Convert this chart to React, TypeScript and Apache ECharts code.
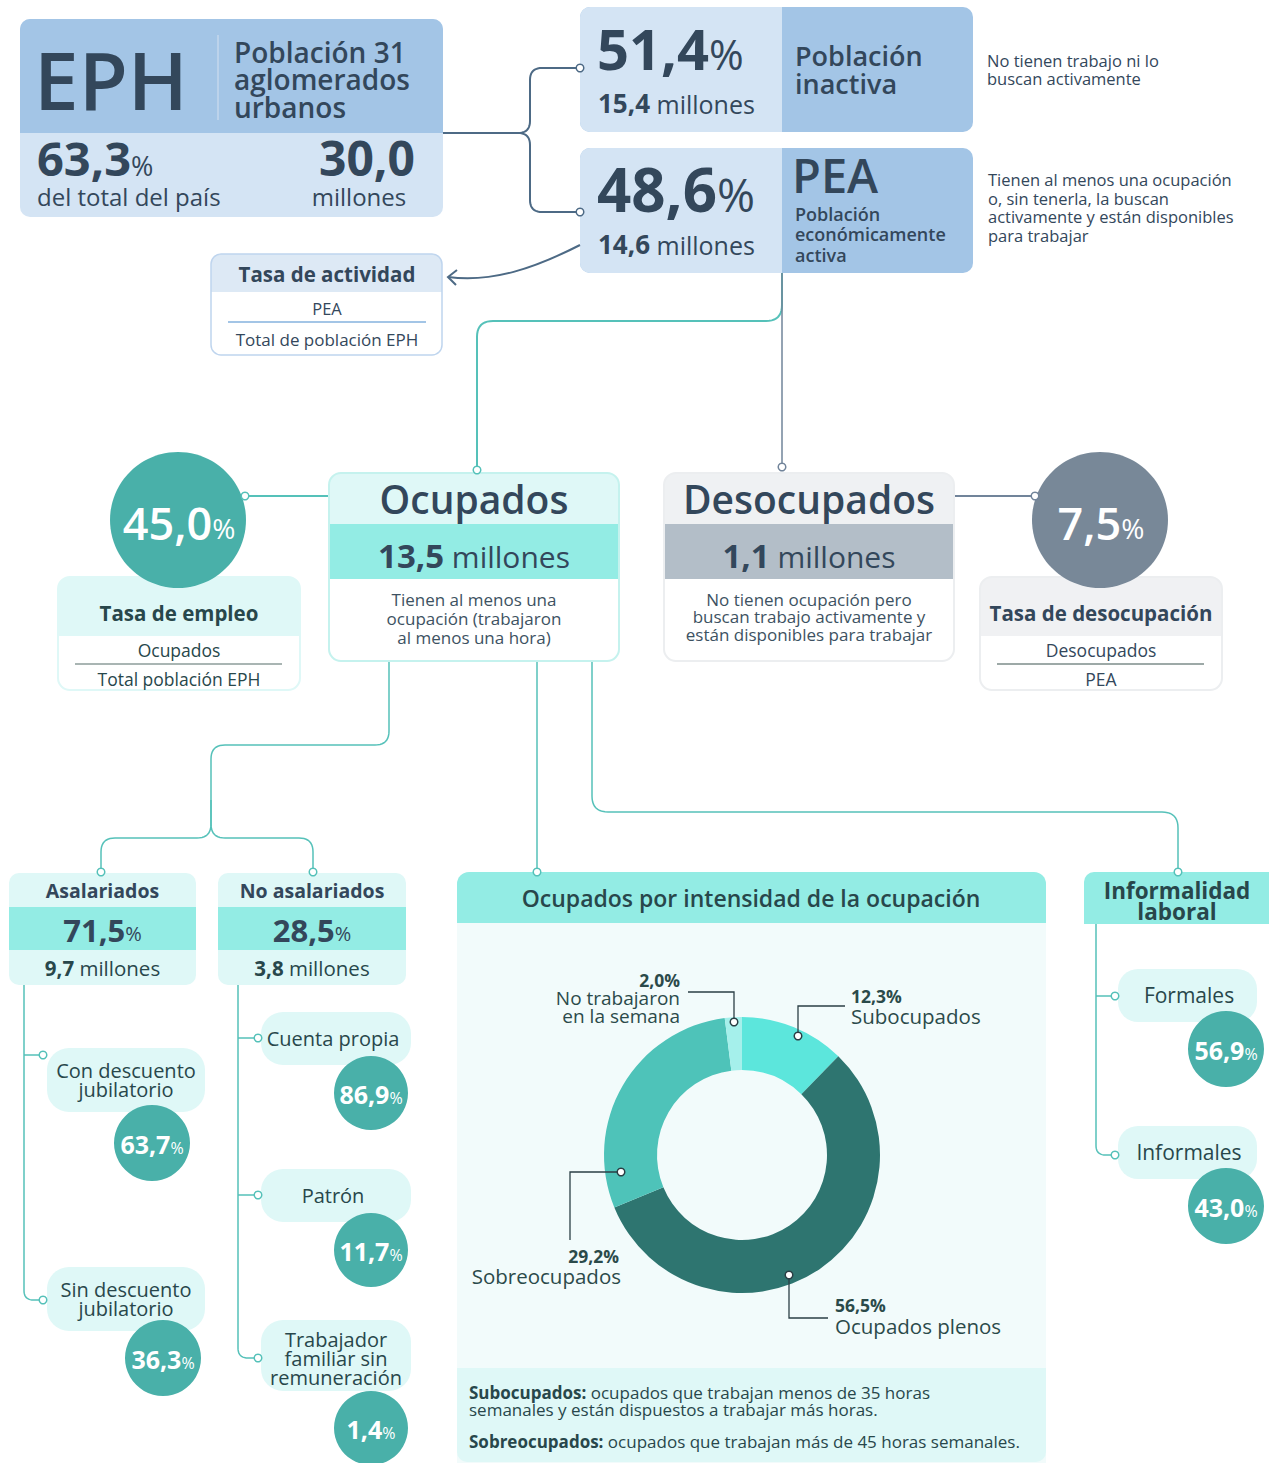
import React, { useEffect, useRef } from "react";
import * as echarts from "echarts";

// ---------------- data ----------------
const ephShareOfCountry = 63.3;
const ephMillions = 30.0;
const topGroupNames = ["Población\ninactiva", "PEA"];
const topGroupPct = [51.4, 48.6];
const topGroupMillions = [15.4, 14.6];
const topGroupDesc = [
  "No tienen trabajo ni lo\nbuscan activamente",
  "Tienen al menos una ocupación\no, sin tenerla, la buscan\nactivamente y están disponibles\npara trabajar",
];
const statusNames = ["Ocupados", "Desocupados"];
const statusMillions = [13.5, 1.1];
const statusDesc = [
  "Tienen al menos una\nocupación (trabajaron\nal menos una hora)",
  "No tienen ocupación pero\nbuscan trabajo activamente y\nestán disponibles para trabajar",
];
const rateNames = ["Tasa de empleo", "Tasa de desocupación"];
const rateValues = [45.0, 7.5];
const rateNumerators = ["Ocupados", "Desocupados"];
const rateDenominators = ["Total población EPH", "PEA"];
const workerTypes = ["Asalariados", "No asalariados"];
const workerPct = [71.5, 28.5];
const workerMillions = [9.7, 3.8];
const asalariadosSub = ["Con descuento\njubilatorio", "Sin descuento\njubilatorio"];
const asalariadosSubPct = [63.7, 36.3];
const noAsalariadosSub = ["Cuenta propia", "Patrón", "Trabajador\nfamiliar sin\nremuneración"];
const noAsalariadosSubPct = [86.9, 11.7, 1.4];
const informalityNames = ["Formales", "Informales"];
const informalityPct = [56.9, 43.0];
const intensityNames = ["Subocupados", "Ocupados plenos", "Sobreocupados", "No trabajaron\nen la semana"];
const intensityPct = [12.3, 56.5, 29.2, 2.0];

// ---------------- styles ----------------
const FONT = "'Open Sans', 'Noto Sans', sans-serif";
const NAVY = "#33475b";
const TTXT = "#28474b";
const DESC = "#3d5262";
const BLUE_LINE = "#4d6a85";
const TEAL_LINE = "#55c1b9";
const GRAY_LINE = "#71849a";
const CIRCLE = "#49b0a9";
const PILL = "#dff8f7";
const BAND = "#93ece4";
const LIGHT_BLUE = "#d4e4f4";
const MID_BLUE = "#a3c5e6";
const SLICE_COLORS = ["#5ce6dc", "#2e7570", "#4ec3b9", "#a5f0eb"];

const fmt = (v: number) => v.toFixed(1).replace(".", ",");

function roundPts(pts: number[][], r: number): number[][] {
  const out: number[][] = [pts[0]];
  for (let i = 1; i < pts.length - 1; i++) {
    const [x0, y0] = pts[i - 1];
    const [x1, y1] = pts[i];
    const [x2, y2] = pts[i + 1];
    const l0 = Math.hypot(x1 - x0, y1 - y0);
    const l1 = Math.hypot(x2 - x1, y2 - y1);
    const rr = Math.min(r, l0 / 2, l1 / 2);
    const ax = x1 - ((x1 - x0) / l0) * rr;
    const ay = y1 - ((y1 - y0) / l0) * rr;
    const bx = x1 + ((x2 - x1) / l1) * rr;
    const by = y1 + ((y2 - y1) / l1) * rr;
    for (let k = 0; k <= 10; k++) {
      const t = k / 10;
      out.push([
        (1 - t) * (1 - t) * ax + 2 * (1 - t) * t * x1 + t * t * bx,
        (1 - t) * (1 - t) * ay + 2 * (1 - t) * t * y1 + t * t * by,
      ]);
    }
  }
  out.push(pts[pts.length - 1]);
  return out;
}

const rect = (x: number, y: number, w: number, h: number, fill: string, r: any = 0, extra: any = {}) => ({
  type: "rect",
  shape: { x, y, width: w, height: h, r },
  style: { fill, ...extra },
});
const frame = (x: number, y: number, w: number, h: number, stroke: string, r: any, lw = 1.5) => ({
  type: "rect",
  shape: { x, y, width: w, height: h, r },
  style: { fill: "none", stroke, lineWidth: lw },
});
const line = (x1: number, y1: number, x2: number, y2: number, stroke: string, lw = 2) => ({
  type: "line",
  shape: { x1, y1, x2, y2 },
  style: { stroke, lineWidth: lw },
});
const conn = (pts: number[][], stroke: string, r = 14, lw = 2) => ({
  type: "polyline",
  shape: { points: roundPts(pts, r) },
  style: { stroke, lineWidth: lw, fill: "none" },
});
const dot = (x: number, y: number, stroke: string, z = 20) => ({
  type: "circle",
  z,
  shape: { cx: x, cy: y, r: 3.8 },
  style: { fill: "#ffffff", stroke, lineWidth: 1.5 },
});
const circ = (cx: number, cy: number, r: number, fill: string) => ({
  type: "circle",
  shape: { cx, cy, r },
  style: { fill },
});
type TOpt = { s?: number; w?: any; c?: string; a?: string; v?: string; lh?: number; rich?: any; z?: number };
const T = (x: number, y: number, text: string, o: TOpt = {}) => ({
  type: "text",
  x,
  y,
  z: o.z ?? 5,
  style: {
    text,
    fontSize: o.s ?? 16,
    fontWeight: o.w ?? 400,
    fontFamily: FONT,
    fill: o.c ?? NAVY,
    align: o.a ?? "left",
    verticalAlign: o.v ?? "middle",
    lineHeight: o.lh,
    rich: o.rich,
  },
});
const R = (a: number, b: number, color: string, aW: any = 700, bW: any = 500, bPad?: number) => ({
  a: { fontSize: a, fontWeight: aW, fontFamily: FONT, fill: color, verticalAlign: "bottom" },
  b: {
    fontSize: b,
    fontWeight: bW,
    fontFamily: FONT,
    fill: color,
    verticalAlign: "bottom",
    padding: [0, 0, bPad ?? Math.round(0.15 * (a - b)), 0],
  },
});
const pctText = (v: number) => `{a|${fmt(v)}}{b|%}`;
const millText = (v: number) => `{a|${fmt(v)}}{b| millones}`;

function buildGraphics() {
  const E: any[] = [];

  // ---- EPH box ----
  E.push(rect(20, 19, 423, 198, LIGHT_BLUE, 10));
  E.push(rect(20, 19, 423, 114, MID_BLUE, [10, 10, 0, 0]));
  E.push(line(218, 35, 218, 120, "#bcd3eb", 2));
  E.push(T(34, 78, "EPH", { s: 80, w: 600 }));
  E.push(T(234, 79, "Población 31\naglomerados\nurbanos", { s: 28, w: 600, lh: 27.5 }));
  E.push(T(37, 158, pctText(ephShareOfCountry), { rich: R(47, 27, NAVY) }));
  E.push(T(37, 196, "del total del país", { s: 24, w: 500 }));
  E.push(T(415, 157, fmt(ephMillions), { s: 48, w: 700, a: "right" }));
  E.push(T(359, 196, "millones", { s: 24, w: 500, a: "center" }));

  // ---- connectors to top groups ----
  E.push(conn([[443, 133], [530, 133], [530, 68], [580, 68]], BLUE_LINE, 12));
  E.push(conn([[443, 133], [530, 133], [530, 212], [580, 212]], BLUE_LINE, 12));

  // ---- teal / gray connectors from PEA ----
  E.push(conn([[782, 273], [782, 321], [477, 321], [477, 470]], TEAL_LINE, 16));
  E.push(line(782, 273, 782, 467, GRAY_LINE, 1.5));

  // ---- top groups ----
  const topY = [7, 148];
  const topPctSize = [[56, 42], [60, 46]];
  topGroupNames.forEach((name, i) => {
    const y = topY[i];
    E.push(rect(580, y, 393, 125, MID_BLUE, 10));
    E.push(rect(580, y, 202, 125, LIGHT_BLUE, [10, 0, 0, 10]));
    E.push(T(597, y + 41, pctText(topGroupPct[i]), { rich: R(topPctSize[i][0], topPctSize[i][1], NAVY, 700, 500) }));
    E.push(T(598, y + 96, millText(topGroupMillions[i]), { rich: R(26, 25, NAVY, 700, 400, 0) }));
    if (i === 0) {
      E.push(T(795, y + 62, name, { s: 27, w: 600, lh: 28 }));
    } else {
      E.push(T(792, y + 27, name, { s: 47, w: 600 }));
      E.push(T(795, y + 86, "Población\neconómicamente\nactiva", { s: 18, w: 600, lh: 20.5 }));
    }
  });
  E.push(T(987, 69, topGroupDesc[0], { s: 16.5, w: 500, lh: 18, c: NAVY }));
  E.push(T(988, 207.5, topGroupDesc[1], { s: 16.5, w: 500, lh: 18.5, c: NAVY }));
  E.push(dot(580, 68, BLUE_LINE));
  E.push(dot(580, 212, BLUE_LINE));

  // ---- Tasa de actividad ----
  E.push({
    type: "bezierCurve",
    shape: { x1: 580, y1: 245, cpx1: 535, cpy1: 268, cpx2: 492, cpy2: 283, x2: 448, y2: 277 },
    style: { stroke: BLUE_LINE, lineWidth: 2, fill: "none" },
  });
  E.push({
    type: "polyline",
    shape: { points: [[457, 270], [448, 277], [456, 285]] },
    style: { stroke: BLUE_LINE, lineWidth: 2, fill: "none" },
  });
  E.push(rect(211, 254, 231, 101, "#ffffff", 10));
  E.push(rect(211, 254, 231, 38, "#dde9f5", [10, 10, 0, 0]));
  E.push(frame(211, 254, 231, 101, "#bfd5ee", 10, 1.5));
  E.push(T(327, 274, "Tasa de actividad", { s: 20.5, w: 700, a: "center" }));
  E.push(T(327, 308, "PEA", { s: 16.5, a: "center" }));
  E.push(line(228, 322, 426, 322, MID_BLUE, 2));
  E.push(T(327, 339, "Total de población EPH", { s: 17, a: "center" }));

  // ---- connectors from Ocupados ----
  E.push(conn([[389, 661], [389, 745], [211, 745], [211, 838], [101, 838], [101, 872]], TEAL_LINE, 14, 1.5));
  E.push(conn([[211, 800], [211, 838], [313, 838], [313, 872]], TEAL_LINE, 14, 1.5));
  E.push(line(537, 661, 537, 872, TEAL_LINE, 1.5));
  E.push(conn([[592, 661], [592, 812], [1178, 812], [1178, 872]], TEAL_LINE, 16, 1.5));

  // ---- rate boxes & circles ----
  const rateBoxX = [58, 980];
  const rateCircle = [[178, 520], [1100, 520]];
  const rateHead = [PILL, "#f0f1f3"];
  const rateBorder = [PILL, "#eceef0"];
  const rateCircleCol = [CIRCLE, "#788898"];
  const rateRule = ["#8c9c9a", "#7d8c8a"];
  const rateTxt = [TTXT, NAVY];
  rateNames.forEach((name, i) => {
    const x = rateBoxX[i];
    E.push(rect(x, 577, 242, 113, "#ffffff", 12));
    E.push(rect(x, 577, 242, 59, rateHead[i], [12, 12, 0, 0]));
    E.push(frame(x, 577, 242, 113, rateBorder[i], 12, 2));
    E.push(T(x + 121, 613, name, { s: 20.5, w: 700, a: "center", c: rateTxt[i] }));
    E.push(T(x + 121, 650, rateNumerators[i], { s: 17.5, a: "center", c: rateTxt[i] }));
    E.push(line(x + 17, 664, x + 224, 664, rateRule[i], 1.5));
    E.push(T(x + 121, 679, rateDenominators[i], { s: 17.5, a: "center", c: rateTxt[i] }));
    const [cx, cy] = rateCircle[i];
    E.push(circ(cx, cy, 68, rateCircleCol[i]));
    E.push(T(cx + 1, cy + 2, pctText(rateValues[i]), { a: "center", rich: R(45, 28, "#ffffff", 600, 500) }));
  });
  E.push(line(245, 496, 329, 496, TEAL_LINE, 2));
  E.push(line(954, 496, 1035, 496, GRAY_LINE, 2));

  // ---- status boxes ----
  const statusX = [329, 664];
  const statusHead = [PILL, "#eff1f3"];
  const statusBand = [BAND, "#b3bec8"];
  const statusBorder = ["#c5f2ee", "#eceef0"];
  statusNames.forEach((name, i) => {
    const x = statusX[i];
    E.push(rect(x, 473, 290, 188, "#ffffff", 12));
    E.push(rect(x, 473, 290, 51, statusHead[i], [12, 12, 0, 0]));
    E.push(rect(x, 524, 290, 55, statusBand[i]));
    E.push(frame(x, 473, 290, 188, statusBorder[i], 12, 2));
    E.push(T(x + 145, 498, name, { s: 39, w: 600, a: "center" }));
    E.push(T(x + 145, 555, millText(statusMillions[i]), { a: "center", rich: R(33, 30, NAVY, 700, 400, 0) }));
    E.push(T(x + 145, i === 0 ? 618 : 616.5, statusDesc[i], { s: 17, lh: i === 0 ? 19 : 17.5, a: "center", c: DESC }));
  });
  E.push(dot(245, 496, TEAL_LINE));
  E.push(dot(1035, 496, GRAY_LINE));
  E.push(dot(477, 470, TEAL_LINE));
  E.push(dot(782, 467, GRAY_LINE));

  // ---- worker type boxes ----
  const workerX = [9, 218];
  const workerW = [187, 188];
  workerTypes.forEach((name, i) => {
    const x = workerX[i];
    const w = workerW[i];
    E.push(rect(x, 873, w, 112, PILL, 10));
    E.push(rect(x, 907, w, 43, BAND));
    E.push(T(x + w / 2, 890, name, { s: 19.5, w: 700, a: "center", c: NAVY }));
    E.push(T(x + w / 2, 930, pctText(workerPct[i]), { a: "center", rich: R(31, 20, NAVY, 700, 500) }));
    E.push(T(x + w / 2, 968, millText(workerMillions[i]), { a: "center", rich: R(20.5, 20.5, TTXT, 700, 500, 0) }));
  });
  E.push(dot(101, 872, TEAL_LINE));
  E.push(dot(313, 872, TEAL_LINE));

  // ---- asalariados sub items ----
  E.push(conn([[24, 985], [24, 1300], [43, 1300]], TEAL_LINE, 14, 1.5));
  E.push(line(24, 1055, 43, 1055, TEAL_LINE, 1.5));
  const asalPillY = [1048, 1267];
  const asalCircle = [[152, 1143], [163, 1358]];
  asalariadosSub.forEach((name, i) => {
    const y = asalPillY[i];
    E.push(rect(47, y, 158, 64, PILL, 22));
    E.push(T(126, y + 32, name, { s: 20, w: 500, lh: 19, a: "center", c: TTXT }));
    const [cx, cy] = asalCircle[i];
    E.push(circ(cx, cy, 38, CIRCLE));
    E.push(T(cx, cy + 1, pctText(asalariadosSubPct[i]), { a: "center", rich: R(25, 16, "#ffffff", 700, 500) }));
    E.push(dot(43, y + 7 + (i === 0 ? 0 : 26), TEAL_LINE));
  });

  // ---- no asalariados sub items ----
  E.push(conn([[238, 985], [238, 1358], [258, 1358]], TEAL_LINE, 14, 1.5));
  E.push(line(238, 1038, 258, 1038, TEAL_LINE, 1.5));
  E.push(line(238, 1195, 258, 1195, TEAL_LINE, 1.5));
  const noPill = [[1012, 53], [1169, 53], [1320, 71]];
  const noCircleY = [1093, 1250, 1428];
  const noDotY = [1038, 1195, 1358];
  noAsalariadosSub.forEach((name, i) => {
    const [y, h] = noPill[i];
    E.push(rect(261, y, 150, h, PILL, 22));
    E.push(T(i === 2 ? 336 : 333, y + h / 2 + (i === 2 ? 3 : 0), name, { s: 20, w: 500, lh: 19, a: "center", c: TTXT }));
    E.push(circ(371, noCircleY[i], 37, CIRCLE));
    E.push(T(371, noCircleY[i] + 1, pctText(noAsalariadosSubPct[i]), { a: "center", rich: R(25, 16, "#ffffff", 700, 500) }));
    E.push(dot(258, noDotY[i], TEAL_LINE));
  });

  // ---- donut panel ----
  E.push(rect(457, 872, 589, 591, "#f2fbfb", [12, 12, 0, 0]));
  E.push(rect(457, 872, 589, 51, BAND, [12, 12, 0, 0]));
  E.push(rect(457, 1368, 589, 94, PILL, [0, 0, 10, 10]));
  E.push(T(751, 898, "Ocupados por intensidad de la ocupación", { s: 23, w: 600, a: "center", c: TTXT }));
  const footRich = {
    b: { fontSize: 17, fontWeight: 700, fontFamily: FONT, fill: TTXT },
    n: { fontSize: 17, fontWeight: 400, fontFamily: FONT, fill: TTXT },
  };
  E.push(T(469, 1392, "{b|Subocupados:}{n| ocupados que trabajan menos de 35 horas}", { rich: footRich }));
  E.push(T(469, 1409, "{n|semanales y están dispuestos a trabajar más horas.}", { rich: footRich }));
  E.push(T(469, 1441, "{b|Sobreocupados:}{n| ocupados que trabajan más de 45 horas semanales.}", { rich: footRich }));
  E.push(dot(537, 872, TEAL_LINE));

  // ---- donut labels ----
  const LBL = "#2b4a4a";
  const pieLabelLayout = [
    { dot: [798, 1036], pts: [[845, 1006], [798, 1006], [798, 1036]], tx: 851, ty: 996, align: "left", dy: 20 },
    { dot: [789, 1275], pts: [[789, 1275], [789, 1318], [828, 1318]], tx: 835, ty: 1305, align: "left", dy: 21 },
    { dot: [621, 1172], pts: [[621, 1172], [570, 1172], [570, 1240]], tx: 619, ty: 1256, align: "right", dy: 20 },
    { dot: [734, 1022], pts: [[688, 992], [734, 992], [734, 1022]], tx: 680, ty: 980, align: "right", dy: 27 },
  ];
  intensityNames.forEach((name, i) => {
    const L = pieLabelLayout[i];
    E.push({ type: "polyline", z: 20, shape: { points: L.pts }, style: { stroke: "#2b3f45", lineWidth: 1.3, fill: "none" } });
    E.push(dot(L.dot[0], L.dot[1], "#2b3f45", 21));
    E.push(T(L.tx, L.ty, fmt(intensityPct[i]) + "%", { s: 17.5, w: 700, a: L.align, c: LBL, z: 20 }));
    const multi = name.indexOf("\n") >= 0;
    E.push(
      T(L.tx + (L.align === "right" && i === 2 ? 2 : 0), L.ty + L.dy, name, {
        s: multi ? 19 : 20.5,
        w: 400,
        lh: 17.5,
        a: L.align,
        c: LBL,
        z: 20,
      })
    );
  });

  // ---- informality ----
  E.push(rect(1084, 872, 185, 52, BAND, [10, 0, 0, 0]));
  E.push(T(1177, 901, "Informalidad\nlaboral", { s: 22.5, w: 700, lh: 21.5, a: "center", c: TTXT }));
  E.push(conn([[1096, 924], [1096, 1155], [1115, 1155]], TEAL_LINE, 14, 1.5));
  E.push(line(1096, 996, 1115, 996, TEAL_LINE, 1.5));
  const infPillY = [969, 1126];
  const infCircleY = [1049, 1206];
  informalityNames.forEach((name, i) => {
    const y = infPillY[i];
    E.push(rect(1118, y, 139, 53, PILL, 20));
    E.push(T(1189, y + 26, name, { s: 21, w: 500, a: "center", c: TTXT }));
    E.push(circ(1226, infCircleY[i], 38, CIRCLE));
    E.push(T(1226, infCircleY[i] + 1, pctText(informalityPct[i]), { a: "center", rich: R(25, 16, "#ffffff", 700, 500) }));
    E.push(dot(1115, i === 0 ? 996 : 1155, TEAL_LINE));
  });
  E.push(dot(1178, 872, TEAL_LINE));

  return E;
}

export default function App() {
  const ref = useRef<HTMLDivElement>(null);
  useEffect(() => {
    if (!ref.current) return;
    const chart = echarts.init(ref.current, undefined, { renderer: "svg" });
    chart.setOption({
      animation: false,
      backgroundColor: "#ffffff",
      graphic: { elements: buildGraphics() },
      series: [
        {
          type: "pie",
          z: 10,
          center: [742, 1155],
          radius: [85, 138],
          startAngle: 90,
          clockwise: true,
          silent: true,
          label: { show: false },
          labelLine: { show: false },
          itemStyle: { borderWidth: 0 },
          data: intensityNames.map((n, i) => ({
            name: n,
            value: intensityPct[i],
            itemStyle: { color: SLICE_COLORS[i] },
          })),
        },
      ],
    });
    return () => chart.dispose();
  }, []);
  return (
    <div
      ref={ref}
      style={{ position: "absolute", left: 0, top: 0, width: 1269, height: 1463 }}
    />
  );
}
